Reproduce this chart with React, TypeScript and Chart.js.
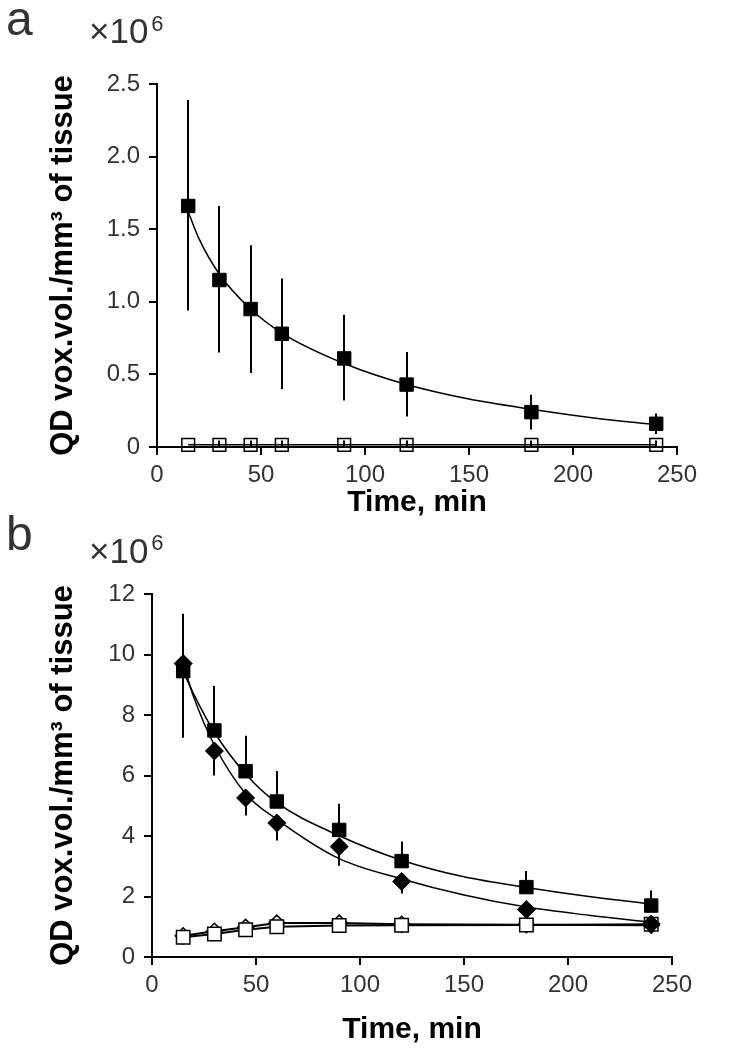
import React, { useEffect, useRef } from 'react';
import { Chart, registerables } from 'chart.js';

Chart.register(...registerables);

const FONT = "'Liberation Sans', Arial, sans-serif";

// shared
const times = [15, 30, 45, 60, 90, 120, 180, 240];
const fitTimes = [15, 20, 30, 45, 60, 90, 120, 150, 180, 210, 240];
const xTicks = [0, 50, 100, 150, 200, 250];

// panel a
const aYTicks = [0, 0.5, 1, 1.5, 2, 2.5];
const aYTickLabels = ['0', '0.5', '1.0', '1.5', '2.0', '2.5'];
const aFilled = [1.66, 1.15, 0.95, 0.78, 0.61, 0.43, 0.24, 0.16];
const aFilledHigh = [2.39, 1.66, 1.39, 1.16, 0.91, 0.655, 0.36, 0.23];
const aFilledLow = [0.94, 0.65, 0.51, 0.4, 0.32, 0.21, 0.12, 0.09];
const aOpen = [0.015, 0.015, 0.015, 0.015, 0.015, 0.015, 0.015, 0.015];
const aOpenHigh = [0.015, 0.045, 0.045, 0.045, 0.045, 0.045, 0.045, 0.045];
const aOpenLow = [0.015, 0.0, 0.0, 0.0, 0.0, 0.0, 0.0, 0.0];
const aFit = [1.62, 1.44, 1.19, 0.95, 0.785, 0.575, 0.43, 0.33, 0.26, 0.2, 0.155];

// panel b
const bYTicks = [0, 2, 4, 6, 8, 10, 12];
const bYTickLabels = ['0', '2', '4', '6', '8', '10', '12'];
const bSquares = [9.45, 7.49, 6.14, 5.14, 4.2, 3.17, 2.31, 1.7];
const bSquaresHigh = [11.35, 8.96, 7.31, 6.15, 5.07, 3.82, 2.84, 2.2];
const bDiamonds = [9.7, 6.81, 5.26, 4.43, 3.65, 2.5, 1.57, 1.09];
const bDiamondsLow = [7.25, 6.0, 4.68, 3.85, 3.02, 2.1, 1.3, 0.9];
const bOpenSquares = [0.65, 0.76, 0.9, 1.0, 1.04, 1.05, 1.06, 1.08];
const bOpenDiamonds = [0.7, 0.85, 0.98, 1.12, 1.12, 1.08, 1.07, 1.05];
const bFitSquares = [9.45, 8.7, 7.43, 6.05, 5.1, 4.01, 3.2, 2.65, 2.3, 2.0, 1.75];
const bFitDiamonds = [9.7, 8.6, 7.0, 5.4, 4.55, 3.25, 2.58, 2.05, 1.65, 1.38, 1.15];

const pts = (xs: number[], ys: number[]) => xs.map((x, i) => ({ x, y: ys[i] }));

type Bar = { lo: number[]; hi: number[] };

interface PanelCfg {
  height: number;
  areaLeft: number;
  areaRight: number;
  areaTop: number;
  areaBottom: number;
  yMax: number;
  yTicks: number[];
  yLabels: string[];
  datasets: any[];
  bars: Bar[];
  letter: string;
  letterBase: number;
  expBase: number;
  supBase: number;
  xTitleBase: number;
}

function makePanel(canvas: HTMLCanvasElement, c: PanelCfg) {
  const errPlugin = {
    id: 'errbars',
    beforeDatasetsDraw(chart: any) {
      const { ctx } = chart;
      const x = chart.scales.x;
      const y = chart.scales.y;
      ctx.save();
      ctx.strokeStyle = '#000';
      ctx.lineWidth = 2;
      for (const b of c.bars) {
        times.forEach((t, i) => {
          if (b.lo[i] === b.hi[i]) return;
          const px = Math.round(x.getPixelForValue(t));
          ctx.beginPath();
          ctx.moveTo(px, y.getPixelForValue(b.lo[i]));
          ctx.lineTo(px, y.getPixelForValue(b.hi[i]));
          ctx.stroke();
        });
      }
      ctx.restore();
    },
  };
  const textPlugin = {
    id: 'texts',
    afterDraw(chart: any) {
      const { ctx, chartArea } = chart;
      ctx.save();
      ctx.fillStyle = '#333';
      ctx.textBaseline = 'alphabetic';
      ctx.textAlign = 'left';
      ctx.font = `48px ${FONT}`;
      ctx.fillText(c.letter, 6, c.letterBase);
      ctx.font = `35px ${FONT}`;
      ctx.fillText('×10', 89, c.expBase);
      const w = ctx.measureText('×10').width;
      ctx.font = `22px ${FONT}`;
      ctx.fillText('6', 89 + w + 3, c.supBase);
      // x title
      ctx.fillStyle = '#000';
      ctx.font = `bold 30px ${FONT}`;
      ctx.textAlign = 'center';
      ctx.fillText('Time, min', (chartArea.left + chartArea.right) / 2, c.xTitleBase);
      // y title
      ctx.translate(72, (chartArea.top + chartArea.bottom) / 2);
      ctx.rotate(-Math.PI / 2);
      ctx.font = `bold 31px ${FONT}`;
      ctx.fillText('QD vox.vol./mm³ of tissue', 0, 0);
      ctx.restore();
    },
  };

  return new Chart(canvas, {
    type: 'scatter',
    data: { datasets: c.datasets },
    plugins: [errPlugin, textPlugin],
    options: {
      animation: false,
      responsive: false,
      maintainAspectRatio: false,
      devicePixelRatio: 1,
      events: [],
      layout: {
        padding: { left: 0, right: 745 - c.areaRight, top: c.areaTop, bottom: 0 },
      },
      plugins: { legend: { display: false }, tooltip: { enabled: false }, title: { display: false } },
      scales: {
        x: {
          type: 'linear',
          min: 0,
          max: 250,
          afterFit: (s: any) => {
            s.height = c.height - c.areaBottom;
          },
          afterBuildTicks: (s: any) => {
            s.ticks = xTicks.map((v) => ({ value: v }));
          },
          ticks: {
            autoSkip: false,
            maxRotation: 0,
            padding: 6,
            color: '#333',
            font: { family: FONT, size: 24 },
            callback: (v: any) => String(v),
          },
          grid: { drawOnChartArea: false, drawTicks: true, tickLength: 8, color: '#000', lineWidth: 2 },
          border: { display: true, color: '#000', width: 2 },
        },
        y: {
          type: 'linear',
          min: 0,
          max: c.yMax,
          afterFit: (s: any) => {
            s.width = c.areaLeft;
          },
          afterBuildTicks: (s: any) => {
            s.ticks = c.yTicks.map((v) => ({ value: v }));
          },
          ticks: {
            autoSkip: false,
            padding: 9,
            color: '#333',
            font: { family: FONT, size: 24 },
            callback: (_v: any, i: number) => c.yLabels[i],
          },
          grid: { drawOnChartArea: false, drawTicks: true, tickLength: 8, color: '#000', lineWidth: 2 },
          border: { display: true, color: '#000', width: 2 },
        },
      },
    } as any,
  });
}

const markerBase = {
  showLine: false,
  clip: false,
  pointBorderColor: '#000',
  borderColor: '#000',
};

const fitBase = {
  showLine: true,
  clip: false,
  pointRadius: 0,
  borderColor: '#000',
  borderWidth: 1.5,
  cubicInterpolationMode: 'monotone',
  order: 10,
};

export default function App() {
  const refA = useRef<HTMLCanvasElement>(null);
  const refB = useRef<HTMLCanvasElement>(null);

  useEffect(() => {
    const chartA = makePanel(refA.current!, {
      height: 520,
      areaLeft: 157,
      areaRight: 677,
      areaTop: 84,
      areaBottom: 447,
      yMax: 2.5,
      yTicks: aYTicks,
      yLabels: aYTickLabels,
      letter: 'a',
      letterBase: 35,
      expBase: 43,
      supBase: 31,
      xTitleBase: 511,
      bars: [
        { lo: aFilledLow, hi: aFilledHigh },
        { lo: aOpenLow, hi: aOpenHigh },
      ],
      datasets: [
        {
          ...markerBase,
          label: 'filled',
          data: pts(times, aFilled),
          pointStyle: 'rect',
          pointRadius: 9.5,
          pointBackgroundColor: '#000',
          pointBorderWidth: 1,
          order: 0,
        },
        {
          ...markerBase,
          label: 'open',
          data: pts(times, aOpen),
          showLine: true,
          borderWidth: 1.5,
          pointStyle: 'rect',
          pointRadius: 9,
          pointBackgroundColor: 'rgba(255,255,255,0)',
          pointBorderWidth: 1.5,
          order: 1,
        },
        { ...fitBase, label: 'fit', data: pts(fitTimes, aFit) },
      ],
    });

    const bTop = 505;
    const chartB = makePanel(refB.current!, {
      height: 1049 - bTop,
      areaLeft: 152,
      areaRight: 672,
      areaTop: 594 - bTop,
      areaBottom: 957 - bTop,
      yMax: 12,
      yTicks: bYTicks,
      yLabels: bYTickLabels,
      letter: 'b',
      letterBase: 550 - bTop,
      expBase: 563 - bTop,
      supBase: 550 - bTop,
      xTitleBase: 1038 - bTop,
      bars: [
        { lo: bSquares, hi: bSquaresHigh },
        { lo: bDiamondsLow, hi: bDiamonds },
      ],
      datasets: [
        {
          ...markerBase,
          label: 'squares',
          data: pts(times, bSquares),
          pointStyle: 'rect',
          pointRadius: 9.5,
          pointBackgroundColor: '#000',
          pointBorderWidth: 1,
          order: 0,
        },
        {
          ...markerBase,
          label: 'diamonds',
          data: pts(times, bDiamonds),
          pointStyle: 'rectRot',
          pointRadius: 9,
          pointBackgroundColor: '#000',
          pointBorderWidth: 1,
          order: 1,
        },
        {
          ...markerBase,
          label: 'open squares',
          data: pts(times, bOpenSquares),
          showLine: true,
          borderWidth: 2,
          pointStyle: 'rect',
          pointRadius: 9.5,
          pointBackgroundColor: '#fff',
          pointBorderWidth: 1.5,
          order: 2,
        },
        {
          ...markerBase,
          label: 'open diamonds',
          data: pts(times, bOpenDiamonds),
          showLine: true,
          borderWidth: 2,
          pointStyle: 'rectRot',
          pointRadius: 8,
          pointBackgroundColor: '#fff',
          pointBorderWidth: 1.5,
          order: 3,
        },
        { ...fitBase, label: 'fit squares', data: pts(fitTimes, bFitSquares) },
        { ...fitBase, label: 'fit diamonds', data: pts(fitTimes, bFitDiamonds) },
      ],
    });

    return () => {
      chartA.destroy();
      chartB.destroy();
    };
  }, []);

  return (
    <>
      <div style={{ position: 'absolute', left: 0, top: 0, width: 745, height: 520 }}>
        <canvas ref={refA} width={745} height={520} style={{ display: 'block', width: 745, height: 520 }} />
      </div>
      <div style={{ position: 'absolute', left: 0, top: 505, width: 745, height: 544 }}>
        <canvas ref={refB} width={745} height={544} style={{ display: 'block', width: 745, height: 544 }} />
      </div>
    </>
  );
}
